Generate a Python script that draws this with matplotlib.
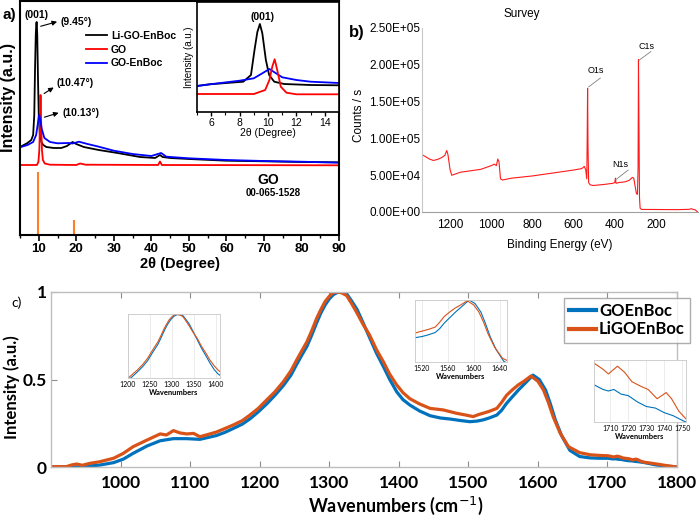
import numpy as np
import matplotlib
matplotlib.use('Agg')
import matplotlib.pyplot as plt
from matplotlib.ticker import MultipleLocator

# ---- a) XRD, main panel (intensity in arbitrary units) ----
xrd_li_x = [5, 6, 7, 8, 8.5, 8.8, 9.0, 9.2, 9.35, 9.45, 9.6, 9.8, 10.0, 10.3, 10.7, 11.2, 12, 14, 16, 17.5,
            19, 20, 22, 26, 31, 37, 41, 42.3, 43, 45, 50, 60, 70, 80, 90]
xrd_li_y = [88, 90, 92, 95, 100, 120, 165, 200, 212, 213, 200, 155, 120, 100, 93, 90, 88, 87, 87, 89,
            93, 91, 88, 85, 82, 78, 77, 80, 78, 77, 76, 74.3, 73.7, 73, 72.7]
xrd_go_x = [5, 9.5, 9.9, 10.15, 10.3, 10.47, 10.65, 10.85, 11.1, 11.6, 13, 20, 21, 22.5, 41.8, 42.3, 42.8, 90]
xrd_go_y = [70, 70, 73, 85, 110, 140, 110, 85, 75, 71.5, 70.3, 70, 71.5, 70.3, 70, 73.5, 70, 69.7]
xrd_goen_x = [5, 7, 8.5, 9.3, 9.7, 10.0, 10.15, 10.4, 10.8, 11.5, 13, 15, 18, 19, 20.7, 23, 26, 30, 35,
              40, 42.6, 44, 50, 60, 70, 80, 90]
xrd_goen_y = [87.7, 90, 93, 100, 110, 119, 120, 115, 106, 97, 93, 91.7, 92, 91.5, 93.3, 91, 88.3, 84.3, 81,
              79, 82, 78.3, 76.7, 75, 74, 73.3, 72.3]
ref_pos = [9.7, 19.5]
ref_height = [63, 15]

# ---- a) XRD inset, 5-15 degrees ----
ins_li_x = [5, 5.9, 8.26, 8.8, 9.05, 9.25, 9.43, 9.6, 9.85, 10.08, 10.44, 11.14, 13, 15]
ins_li_y = [26, 27.7, 30.3, 37, 62, 80, 88, 78.7, 52, 37, 30.3, 28, 27, 26.7]
ins_go_x = [5, 9, 9.8, 10.1, 10.3, 10.47, 10.65, 10.9, 11.3, 12, 15]
ins_go_y = [18, 18, 22, 32, 45.3, 52.7, 42, 25.3, 19.3, 17.7, 17.7]
ins_goen_x = [5, 5.9, 8, 9, 9.6, 10.1, 10.5, 11, 12, 13, 15]
ins_goen_y = [26, 27.7, 31.3, 33.7, 38.7, 43, 39.3, 34.7, 32, 30.3, 29]

# ---- b) XPS survey ----
xps_be = [1336, 1333, 1300, 1281, 1260, 1240, 1225, 1216, 1210, 1200, 1192, 1180, 1150, 1100, 1050, 1000,
          985, 975, 968, 962, 955, 945, 900, 800, 700, 600, 560, 548, 541, 536, 534, 532, 530, 527,
          520, 505, 450, 410, 400, 397, 394, 380, 350, 330, 315, 308, 300, 295, 290, 287, 285, 283,
          280, 277, 270, 200, 100, 40, 28, 20, 10, 0, -4]
xps_cps = [78000, 77500, 72000, 70000, 71500, 74000, 77000, 83500, 78000, 58000, 50000, 51000, 54000, 56000,
           58000, 63000, 65000, 63000, 72000, 68000, 45000, 43500, 46000, 49000, 53000, 57000, 59000, 62000,
           57000, 45000, 100000, 168000, 90000, 40000, 37000, 36000, 37500, 39000, 40000, 46000, 39000,
           40000, 41000, 43000, 47000, 46000, 33000, 25000, 24000, 60000, 207000, 130000, 20000, 5000,
           3500, 3400, 3200, 3600, 4500, 3500, 3000, 500, 0]

# ---- c) Raman ----
ram_wn_li = [900, 922, 930, 937, 945, 956, 970, 990, 1004, 1018, 1038, 1057, 1066, 1076, 1085, 1095, 1105,
             1114, 1125, 1138, 1150, 1162, 1175, 1186, 1198, 1210, 1222, 1234, 1245, 1253, 1260, 1268, 1275,
             1282, 1288, 1294, 1300, 1306, 1312, 1318, 1325, 1332, 1339, 1348, 1358, 1368, 1378, 1387, 1397,
             1406, 1416, 1430, 1445, 1464, 1483, 1495, 1507, 1515, 1521, 1530, 1541, 1548, 1555, 1563, 1572,
             1580, 1590, 1600, 1608, 1615, 1622, 1632, 1644, 1660, 1675, 1689, 1701, 1706, 1709, 1714, 1718,
             1722, 1727, 1731, 1736, 1741, 1744, 1748, 1752, 1771, 1785, 1800]
ram_li = [0.002, 0.002, 0.012, 0.017, 0.01, 0.021, 0.03, 0.05, 0.078, 0.116, 0.154, 0.189, 0.183, 0.208,
          0.195, 0.189, 0.192, 0.173, 0.185, 0.2, 0.22, 0.24, 0.265, 0.297, 0.335, 0.383, 0.43, 0.487, 0.55,
          0.61, 0.66, 0.716, 0.78, 0.85, 0.9, 0.945, 0.975, 0.998, 1.0, 0.995, 0.98, 0.935, 0.887, 0.82,
          0.754, 0.67, 0.6, 0.53, 0.469, 0.425, 0.39, 0.36, 0.335, 0.326, 0.307, 0.298, 0.288, 0.3, 0.307,
          0.318, 0.335, 0.37, 0.41, 0.44, 0.47, 0.49, 0.52, 0.49, 0.44, 0.37, 0.287, 0.194, 0.116, 0.082,
          0.07, 0.066, 0.064, 0.06, 0.057, 0.062, 0.058, 0.052, 0.049, 0.047, 0.041, 0.045, 0.041, 0.033,
          0.028, 0.017, 0.008, 0.0]
ram_wn_go = [900, 937, 970, 990, 1004, 1018, 1038, 1057, 1076, 1095, 1114, 1125, 1138, 1150, 1162, 1175,
             1186, 1198, 1210, 1222, 1234, 1245, 1253, 1260, 1268, 1275, 1282, 1288, 1294, 1300, 1306, 1312,
             1318, 1325, 1332, 1340, 1348, 1358, 1368, 1378, 1387, 1397, 1406, 1416, 1430, 1445, 1460, 1474,
             1488, 1502, 1512, 1521, 1530, 1541, 1548, 1555, 1563, 1572, 1582, 1593, 1602, 1611, 1618, 1625,
             1634, 1646, 1660, 1675, 1689, 1701, 1706, 1709, 1712, 1716, 1720, 1725, 1730, 1735, 1740, 1745,
             1750, 1752, 1771, 1785, 1800]
ram_go = [0.0, 0.0, 0.011, 0.025, 0.045, 0.078, 0.12, 0.15, 0.162, 0.162, 0.158, 0.168, 0.18, 0.198, 0.22,
          0.245, 0.275, 0.315, 0.36, 0.41, 0.465, 0.525, 0.585, 0.635, 0.69, 0.755, 0.825, 0.88, 0.925, 0.96,
          0.985, 0.998, 1.0, 0.99, 0.95, 0.9, 0.83, 0.74, 0.65, 0.573, 0.5, 0.43, 0.385, 0.354, 0.32, 0.293,
          0.28, 0.274, 0.266, 0.259, 0.262, 0.269, 0.28, 0.297, 0.325, 0.364, 0.4, 0.44, 0.48, 0.525, 0.5,
          0.44, 0.36, 0.27, 0.18, 0.095, 0.06, 0.052, 0.05, 0.05, 0.047, 0.046, 0.047, 0.044, 0.043, 0.039,
          0.036, 0.035, 0.032, 0.03, 0.027, 0.026, 0.011, 0.005, 0.0]

W, H = 700, 520
ARIAL = 'Liberation Sans'
CAL = 'Lato'
BLUE = '#0072BD'
ORANGE = '#D95319'


def box(l, t, r, b):
    return [l / W, 1 - b / H, (r - l) / W, (b - t) / H]


def ftext(x, y, s, **kw):
    fig.text(x / W, 1 - y / H, s, ha=kw.pop('ha', 'center'), va=kw.pop('va', 'center'), **kw)


fig = plt.figure(figsize=(7, 5.2), dpi=100)

# ================= panel a =================
axa = fig.add_axes(box(20, 1, 339, 235))
axa.plot(xrd_li_x, xrd_li_y, color='black', lw=1.3, label='Li-GO-EnBoc')
axa.plot(xrd_go_x, xrd_go_y, color='red', lw=1.3, label='GO')
axa.plot(xrd_goen_x, xrd_goen_y, color='blue', lw=1.3, label='GO-EnBoc')
axa.vlines(ref_pos, 0, ref_height, color='#ff7f27', lw=1.5)
axa.set_xlim(5, 90)
axa.set_ylim(0, 234)
axa.set_yticks([])
axa.set_xticks(range(10, 91, 10))
axa.xaxis.set_minor_locator(MultipleLocator(5))
axa.tick_params(axis='x', which='major', length=4, width=1.2, pad=2)
axa.tick_params(axis='x', which='minor', length=2.5, width=1.0)
for lab in axa.get_xticklabels():
    lab.set_fontfamily(ARIAL)
    lab.set_fontweight('bold')
    lab.set_fontsize(9.5)
for sp in axa.spines.values():
    sp.set_linewidth(1.5)
axa.set_xlabel('2θ (Degree)', family=ARIAL, weight='bold', fontsize=10.5, labelpad=1)
axa.legend(loc='upper left', bbox_to_anchor=((86 - 20) / 319, (235 - 31) / 234), frameon=False,
           prop=dict(family=ARIAL, weight='bold', size=7.5), handlelength=2.0, handletextpad=0.4,
           labelspacing=0.35, borderaxespad=0, borderpad=0)

akw = dict(arrowstyle='-|>', color='black', lw=0.8, mutation_scale=7)
axa.annotate('', xy=(15.6, 214), xytext=(9.8, 208), arrowprops=akw)
axa.annotate('', xy=(14.6, 149), xytext=(10.8, 140), arrowprops=akw)
axa.annotate('', xy=(16.0, 123), xytext=(10.8, 117), arrowprops=akw)
tk = dict(family=ARIAL, weight='bold', fontsize=7.5, va='center')
axa.text(9.5, 220, '(001)', ha='center', **tk)
axa.text(15.9, 213, '(9.45°)', ha='left', **tk)
axa.text(14.8, 152, '(10.47°)', ha='left', **tk)
axa.text(16.3, 122, '(10.13°)', ha='left', **tk)
axa.text(71.1, 55, 'GO', ha='center', va='center', family=ARIAL, weight='bold', fontsize=10)
axa.text(72.5, 42, '00-065-1528', ha='center', va='center', family=ARIAL, weight='bold', fontsize=7)

ftext(9, 97, 'Intensity (a.u.)', rotation=90, family=ARIAL, weight='bold', fontsize=11.5)
ftext(9, 15, 'a)', family=ARIAL, weight='bold', fontsize=11)

# inset of a
axi = fig.add_axes(box(197, 2, 339, 112))
axi.plot(ins_li_x, ins_li_y, color='black', lw=1.3)
axi.plot(ins_goen_x, ins_goen_y, color='blue', lw=1.3)
axi.plot(ins_go_x, ins_go_y, color='red', lw=1.3)
axi.set_xlim(5, 15)
axi.set_ylim(0, 110)
axi.set_yticks([])
axi.set_xticks([6, 8, 10, 12, 14])
axi.xaxis.set_minor_locator(MultipleLocator(1))
axi.tick_params(axis='x', which='major', length=3, width=1.0, pad=1.5, labelsize=7.5)
axi.tick_params(axis='x', which='minor', length=1.8, width=0.8)
for lab in axi.get_xticklabels():
    lab.set_fontfamily(ARIAL)
for sp in axi.spines.values():
    sp.set_linewidth(1.2)
axi.set_xlabel('2θ (Degree)', family=ARIAL, fontsize=7.5, labelpad=0)
axi.set_ylabel('Intensity (a.u.)', family=ARIAL, fontsize=7, labelpad=2)
axi.text(9.58, 95, '(001)', ha='center', va='center', family=ARIAL, weight='bold', fontsize=7.5)

# ================= panel b =================
axb = fig.add_axes(box(422, 28, 698, 212))
axb.plot(xps_be, xps_cps, color='#ff1a1a', lw=0.8)
axb.set_xlim(1336, -4)
axb.set_ylim(0, 2.5e5)
yt = np.arange(0, 2.51e5, 5e4)
axb.set_yticks(yt)
axb.set_yticklabels(['{:.2E}'.format(v) for v in yt])
axb.set_xticks([1200, 1000, 800, 600, 400, 200])
axb.tick_params(length=0, labelsize=8.5)
axb.tick_params(axis='y', pad=1)
axb.tick_params(axis='x', pad=5)
for lab in axb.get_xticklabels() + axb.get_yticklabels():
    lab.set_fontfamily(ARIAL)
axb.spines['top'].set_visible(False)
axb.spines['right'].set_visible(False)
axb.spines['left'].set_color('#c8c8c8')
axb.spines['bottom'].set_color('#a0a0a0')
lkw = dict(color='#808080', lw=0.6)
axb.plot([527, 470], [170000, 182000], **lkw)
axb.plot([283, 225], [206000, 218000], **lkw)
axb.plot([395, 335], [44000, 57000], **lkw)
axb.text(492, 186000, 'O1s', family=ARIAL, fontsize=6.5, ha='center', va='bottom')
axb.text(247, 219000, 'C1s', family=ARIAL, fontsize=6.5, ha='center', va='bottom')
axb.text(372, 58000, 'N1s', family=ARIAL, fontsize=6.5, ha='center', va='bottom')
ftext(522, 14, 'Survey', family=ARIAL, fontsize=8.5)
ftext(560, 245, 'Binding Energy (eV)', family=ARIAL, fontsize=8.5)
ftext(359, 115, 'Counts / s', rotation=90, family=ARIAL, fontsize=8.5)
ftext(357, 33, 'b)', family=ARIAL, weight='bold', fontsize=12)

# ================= panel c =================
axc = fig.add_axes(box(51, 292, 677, 467))
axc.plot(ram_wn_go, ram_go, color=BLUE, lw=2.3, label='GOEnBoc')
axc.plot(ram_wn_li, ram_li, color=ORANGE, lw=2.3, label='LiGOEnBoc')
axc.set_xlim(900, 1800)
axc.set_ylim(0, 1)
axc.set_xticks(range(1000, 1801, 100))
axc.set_yticks([0, 0.5, 1])
axc.set_yticklabels(['0', '0.5', '1'])
axc.tick_params(direction='in', top=True, right=True, length=4, color='#8c8c8c', width=0.8)
axc.tick_params(axis='x', pad=6)
axc.tick_params(axis='y', pad=3)
for lab in axc.get_xticklabels() + axc.get_yticklabels():
    lab.set_fontfamily(CAL)
    lab.set_fontweight('bold')
    lab.set_fontsize(12.5)
for sp in axc.spines.values():
    sp.set_color('#bdbdbd')
    sp.set_linewidth(1.0)
leg = axc.legend(loc='upper left', bbox_to_anchor=((564 - 51) / 626, (467 - 298) / 175),
                 prop=dict(family=CAL, weight='bold', size=12), handlelength=1.6, handletextpad=0.2,
                 labelspacing=0.15, borderpad=0.3, borderaxespad=0, fancybox=False)
leg.get_frame().set_edgecolor('#999999')
leg.get_frame().set_linewidth(1.0)
for ln in leg.get_lines():
    ln.set_linewidth(3)

ftext(12, 387, 'Intensity (a.u.)', rotation=90, family=CAL, weight='bold', fontsize=12)
ftext(396, 506, 'Wavenumbers (cm$^{-1}$)', family=CAL, weight='bold', fontsize=13)
ftext(17, 303, 'c)', family=CAL, fontsize=10)


def raman_inset(rect, xlo, xhi, ylo, yhi, ticks):
    ax = fig.add_axes(rect)
    ax.plot(ram_wn_go, ram_go, color=BLUE, lw=0.8)
    ax.plot(ram_wn_li, ram_li, color=ORANGE, lw=0.8)
    ax.set_xlim(xlo, xhi)
    ax.set_ylim(ylo, yhi)
    ax.set_xticks(ticks)
    ax.set_yticks([])
    ax.grid(axis='x', color='#e4e4e4', lw=0.5)
    ax.tick_params(length=0, pad=2, labelsize=5)
    for lab in ax.get_xticklabels():
        lab.set_fontfamily(CAL)
    ax.set_xlabel('Wavenumbers', family=CAL, weight='bold', fontsize=5.5, labelpad=1)
    for sp in ax.spines.values():
        sp.set_color('#c8c8c8')
        sp.set_linewidth(0.6)
    return ax


raman_inset(box(128, 314, 220, 378), 1200, 1410, 0.345, 1.005, [1200, 1250, 1300, 1350, 1400])
raman_inset(box(415, 300, 507, 362), 1510, 1651, 0.09, 0.525, [1520, 1560, 1600, 1640])
raman_inset(box(594, 360, 686, 422), 1701, 1752, 0.026, 0.066, [1710, 1720, 1730, 1740, 1750])

fig.savefig('out.png', dpi=100)
